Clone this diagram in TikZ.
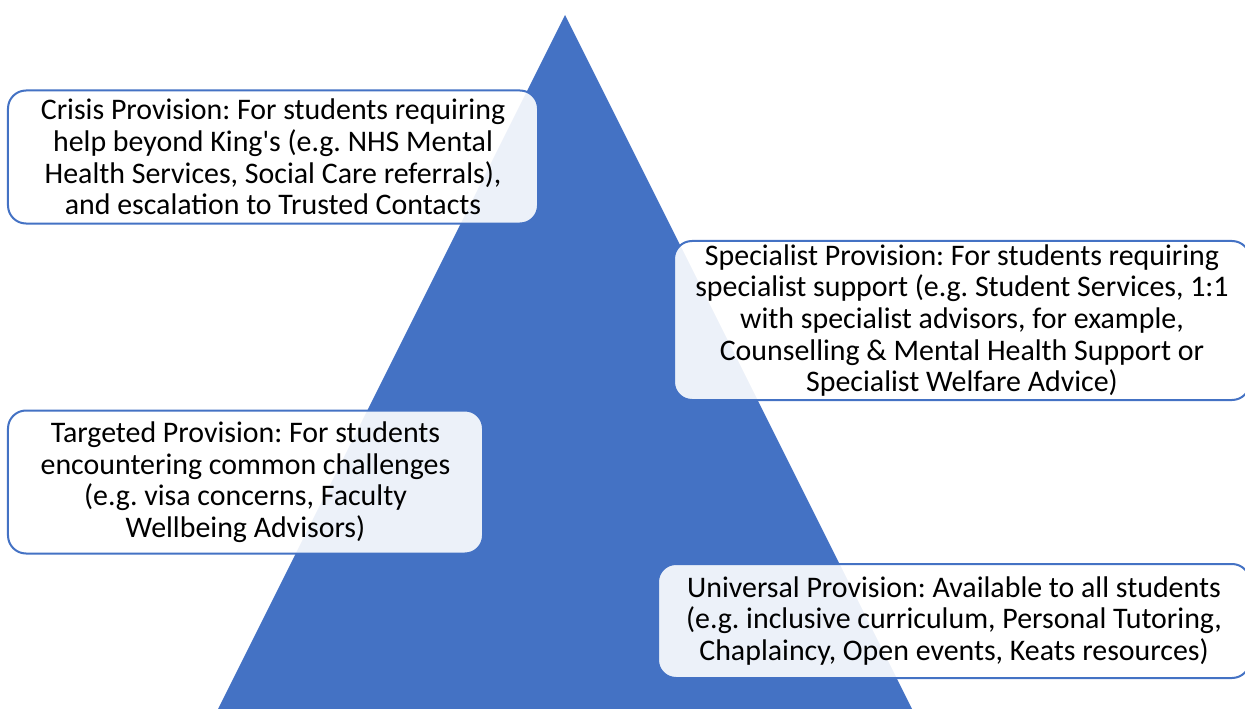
\documentclass[tikz,border=0pt]{standalone}
\usepackage{fontspec}
\setmainfont{Carlito}
\frenchspacing
\definecolor{tierblue}{HTML}{4472C4}
\tikzset{
  tierbox/.style={draw=tierblue, line width=2bp, fill=white, fill opacity=0.9,
    text opacity=1, rounded corners=18bp, align=center, inner sep=0pt,
    font=\fontsize{30}{31.7}\selectfont, text=black}
}
\begin{document}
\begin{tikzpicture}[x=1bp, y=-1bp]
  \useasboundingbox (0,0) rectangle (1245,709);
  \clip (0,0) rectangle (1245,709);
  % pyramid
  \fill[tierblue] (565,15) -- (912,709) -- (218,709) -- cycle;
  % tiers
  \node[tierbox, minimum width=530bp, minimum height=133bp] (crisis) at (273,157)
    {Crisis Provision: For students requiring\\help beyond King\textquotesingle s (e.g. NHS Mental\\Health Services, Social Care referrals),\\and escalation to Trusted Contacts};
  \node[tierbox, minimum width=576bp, minimum height=159bp] (specialist) at (962,320.5)
    {Specialist Provision: For students requiring\\specialist support (e.g. Student Services, 1:1\\with specialist advisors, for example,\\Counselling \& Mental Health Support or\\Specialist Welfare Advice)};
  \node[tierbox, minimum width=475bp, minimum height=143bp] (targeted) at (245.5,482)
    {Targeted Provision: For students\\encountering common challenges\\(e.g. visa concerns, Faculty\\Wellbeing Advisors)};
  \node[tierbox, minimum width=592bp, minimum height=114bp] (universal) at (954,621)
    {Universal Provision: Available to all students\\(e.g. inclusive curriculum, Personal Tutoring,\\Chaplaincy, Open events, Keats resources)};
\end{tikzpicture}
\end{document}
